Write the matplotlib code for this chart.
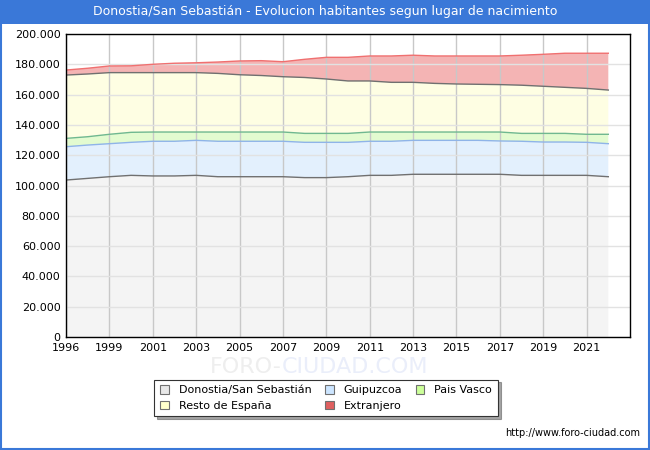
import matplotlib
matplotlib.use("Agg")
import matplotlib.pyplot as plt
from matplotlib.patches import Rectangle
from matplotlib.ticker import FuncFormatter

# datos (en habitantes)
years = [1996, 1998, 1999, 2000, 2001, 2002, 2003, 2004, 2005, 2006, 2007, 2008, 2009,
         2010, 2011, 2012, 2013, 2014, 2015, 2016, 2017, 2018, 2019, 2020, 2021, 2022]
donostia = [103600, 104700, 105800, 106700, 106300, 106300, 106700, 105800, 105800, 105800,
            105800, 105200, 105200, 105800, 106700, 106700, 107400, 107400, 107400, 107400,
            107400, 106700, 106700, 106700, 106700, 105800]
guipuzcoa = [22000, 22000, 21800, 21800, 22900, 22900, 23100, 23400, 23400, 23400,
             23400, 23300, 23300, 22700, 22500, 22500, 22400, 22400, 22400, 22400,
             22000, 22500, 22000, 22000, 21800, 21800]
pais_vasco = [5500, 5500, 6200, 6600, 6100, 6100, 5500, 6100, 6100, 6100,
              6100, 5900, 5900, 5900, 6100, 6100, 5500, 5500, 5500, 5500,
              5900, 5200, 5700, 5700, 5300, 6200]
resto = [41800, 41400, 40700, 39400, 39200, 39200, 39200, 38700, 37800, 37300,
         36500, 36900, 35900, 34600, 33700, 32800, 32800, 32100, 31700, 31500,
         31300, 31800, 31100, 30400, 30300, 29200]
extranjero = [3300, 3800, 4400, 4500, 5500, 6200, 6500, 7500, 9100, 9800,
              9900, 12000, 14300, 15600, 16500, 17400, 17900, 18100, 18500, 18700,
              18900, 19800, 21100, 22500, 23200, 24300]

names = ['Donostia/San Sebastián', 'Guipuzcoa', 'Pais Vasco', 'Resto de España', 'Extranjero']
fill_colors = ['#f4f4f4', '#e3f0fd', '#e3fbd0', '#fefee3', '#f4b4b4']
line_colors = ['#707070', '#8fb4e8', '#70b890', '#707070', '#f07070']
legend_colors = ['#e8e8e8', '#cce5ff', '#ccff99', '#ffffcc', '#e06060']

fig = plt.figure(figsize=(6.5, 4.5), dpi=100)

# barra del titulo y borde
fig.patches.append(Rectangle((0, 1 - 24 / 450), 1, 24 / 450, transform=fig.transFigure,
                             facecolor='#3a78d8', edgecolor='none', zorder=0))
fig.patches.append(Rectangle((0.001, 0.002), 0.997, 0.996, transform=fig.transFigure,
                             facecolor='none', edgecolor='#3a78d8', linewidth=1.5, zorder=5))
fig.text(0.5, 1 - 12 / 450, 'Donostia/San Sebastián - Evolucion habitantes segun lugar de nacimiento',
         color='white', ha='center', va='center', fontsize=9)

ax = fig.add_axes([66 / 650, 1 - 337 / 450, (630 - 66) / 650, (337 - 34) / 450])

x = list(range(len(years)))
series = [donostia, guipuzcoa, pais_vasco, resto, extranjero]
bottom = [0] * len(years)
for vals, fc, lc, name in zip(series, fill_colors, line_colors, names):
    top = [b + v for b, v in zip(bottom, vals)]
    ax.fill_between(x, bottom, top, facecolor=fc, edgecolor='none', zorder=2)
    ax.plot(x, top, color=lc, linewidth=1, zorder=3)
    bottom = top

ax.set_xlim(0, 26)
ax.set_ylim(0, 200000)
ax.set_xticks(x[::2])
ax.set_xticklabels([str(y) for y in years[::2]])
ax.set_yticks(range(0, 200001, 20000))
ax.yaxis.set_major_formatter(FuncFormatter(lambda v, p: f'{int(v):,}'.replace(',', '.')))
ax.tick_params(length=0, labelsize=8, pad=4)
ax.grid(axis='x', color='#c8c8c8', linewidth=1, zorder=1)
ax.grid(axis='y', color='#e2e2e2', linewidth=1, zorder=1)
ax.set_axisbelow(False)
for s in ax.spines.values():
    s.set_color('black')
    s.set_linewidth(1)
    s.set_zorder(4)

# marca de agua
fig.text(282 / 650, 1 - 367 / 450, 'FORO-', fontsize=16, color='#eeeeee', ha='right', va='center', zorder=0)
fig.text(282 / 650, 1 - 367 / 450, 'CIUDAD.COM', fontsize=16, color='#eaeefa', ha='left', va='center', zorder=0)

# leyenda
handles = [Rectangle((0, 0), 1, 1, facecolor=c, edgecolor='#707070', linewidth=0.8) for c in legend_colors]
order = [0, 3, 1, 4, 2]
leg = fig.legend([handles[i] for i in order], [names[i] for i in order], ncol=3,
                 loc='center', bbox_to_anchor=(326 / 650, 1 - 398 / 450), fontsize=8,
                 frameon=True, fancybox=False, shadow=True, edgecolor='#333333',
                 handlelength=0.8, handleheight=0.8, columnspacing=1.2, handletextpad=0.9,
                 borderpad=0.5, labelspacing=0.5)
leg.get_frame().set_linewidth(0.8)

fig.text(640 / 650, 1 - 433 / 450, 'http://www.foro-ciudad.com', fontsize=7, ha='right', va='center')

fig.savefig('out.png', dpi=100)
